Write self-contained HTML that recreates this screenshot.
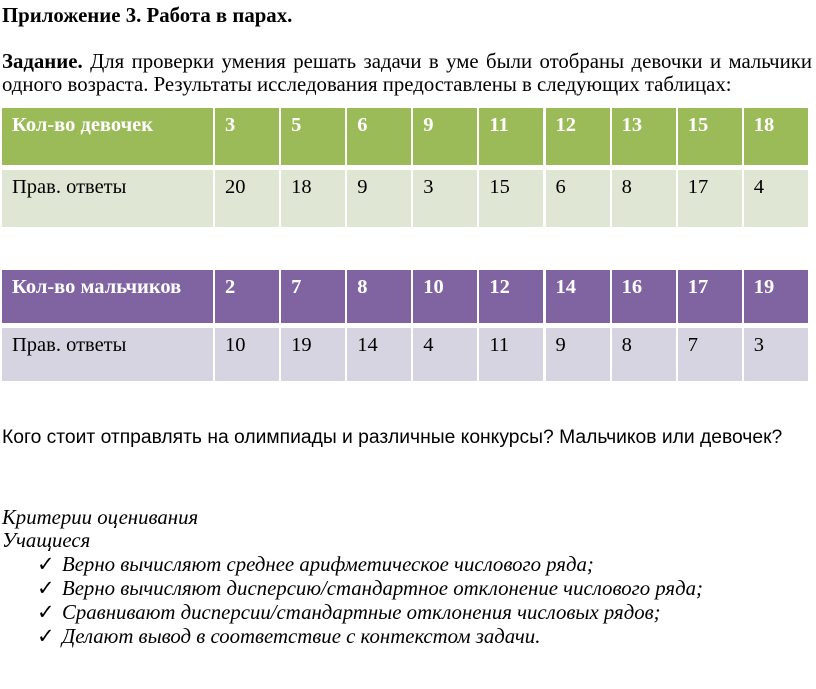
<!DOCTYPE html>
<html><head><meta charset="utf-8"><style>
body{margin:0;width:816px;height:689px;background:#fff;position:relative;overflow:hidden;font-family:"Liberation Serif",serif;color:#000}
.t{position:absolute;white-space:nowrap;font-size:20.8px;line-height:24px}
.c{position:absolute;box-sizing:border-box;padding:6px 0 0 10px;font-size:20.5px}
.hg{background:#9bbb59;color:#fff;font-weight:bold}
.rg{background:#dfe6d4}
.hp{background:#8064a2;color:#fff;font-weight:bold}
.rp{background:#d6d4e0}
.i{font-style:italic}
</style></head><body>
<div class="t" style="left:2px;top:4px;font-weight:bold">Приложение 3. Работа в парах.</div>
<div class="t" style="left:2px;top:50px;width:810px;text-align:justify;text-align-last:justify;white-space:normal"><b>Задание.</b> Для проверки умения решать задачи в уме были отобраны девочки и мальчики</div>
<div class="t" style="left:2px;top:73px">одного возраста. Результаты исследования предоставлены в следующих таблицах:</div>
<div id="tables"></div>
<div class="t" style="left:2px;top:426px;font-family:'Liberation Sans',sans-serif;font-size:19.3px">Кого стоит отправлять на олимпиады и различные конкурсы? Мальчиков или девочек?</div>
<div class="t i" style="left:2px;top:506px">Критерии оценивания</div>
<div class="t i" style="left:2px;top:529px">Учащиеся</div>
<div class="t" style="left:37px;top:553px">✓</div><div class="t i" style="left:62px;top:553px">Верно вычисляют среднее арифметическое числового ряда;</div>
<div class="t" style="left:37px;top:577px">✓</div><div class="t i" style="left:62px;top:577px">Верно вычисляют дисперсию/стандартное отклонение числового ряда;</div>
<div class="t" style="left:37px;top:601px">✓</div><div class="t i" style="left:62px;top:601px">Сравнивают дисперсии/стандартные отклонения числовых рядов;</div>
<div class="t" style="left:37px;top:625px">✓</div><div class="t i" style="left:62px;top:625px">Делают вывод в соответствие с контекстом задачи.</div>
<script>
function tbl(y1,h1,y2,h2,hc,rc,lab,a,b){
 let s='';const xs=[2,215];for(let i=1;i<=9;i++)xs.push(215+i*66.1);
 const row=(y,h,cls,first,vals)=>{
  s+=`<div class="c ${cls}" style="left:2px;top:${y}px;width:211px;height:${h}px">${first}</div>`;
  vals.forEach((v,i)=>{const x=xs[i+1];s+=`<div class="c ${cls}" style="left:${x}px;top:${y}px;width:${66.1-2}px;height:${h}px">${v}</div>`});
 };
 row(y1,h1,hc,lab,a);row(y2,h2,rc,'Прав. ответы',b);return s;
}
document.getElementById('tables').innerHTML=
 tbl(108,57,170,57,'hg','rg','Кол-во девочек',[3,5,6,9,11,12,13,15,18],[20,18,9,3,15,6,8,17,4])+
 tbl(270,53,328,53,'hp','rp','Кол-во мальчиков',[2,7,8,10,12,14,16,17,19],[10,19,14,4,11,9,8,7,3]);
</script>
</body></html>
